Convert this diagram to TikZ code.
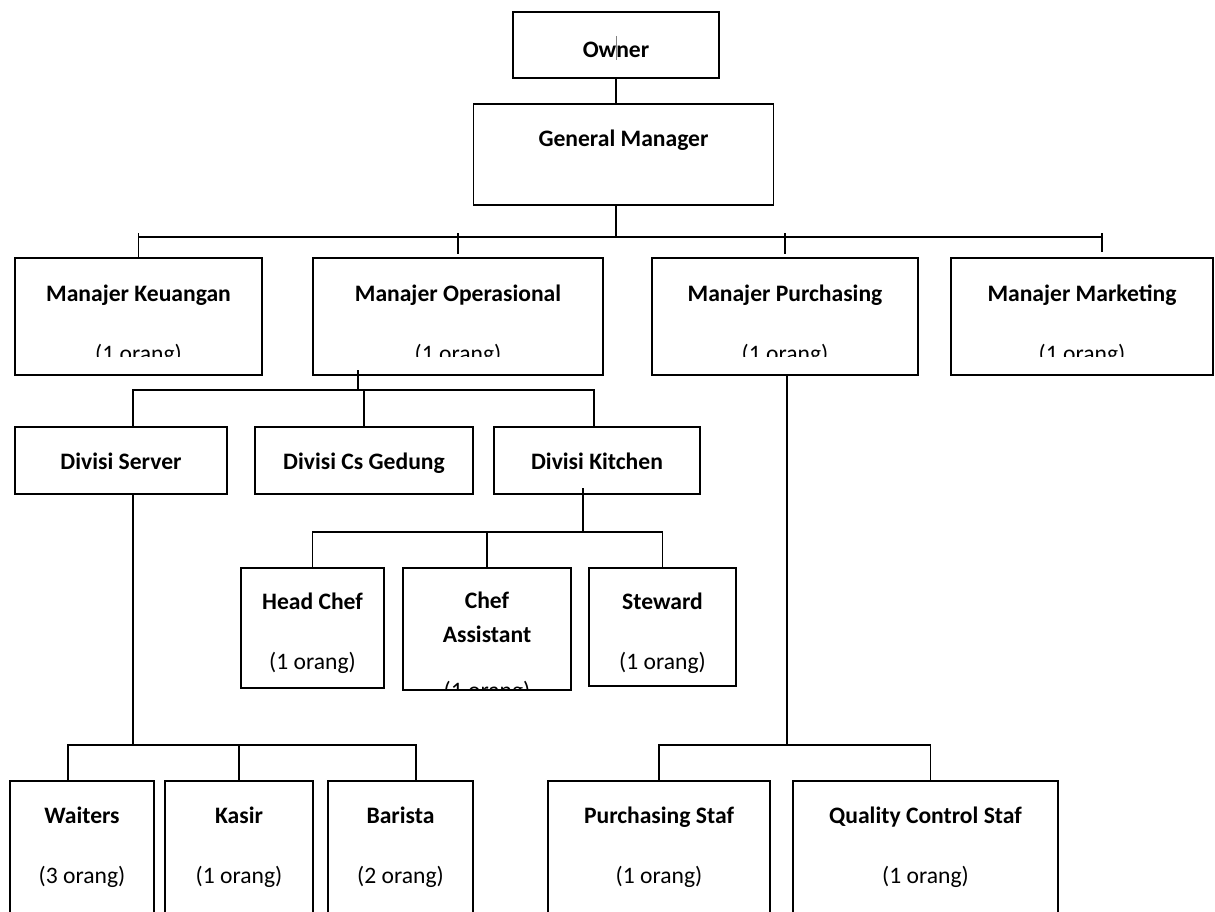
\documentclass[tikz,border=0pt]{standalone}
\usepackage{fontspec}
\setmainfont{Carlito}
\usepackage{tikz}

\begin{document}
\begin{tikzpicture}[x=1pt,y=-1pt,line width=1.6pt,
  box/.style={draw, inner sep=0pt, outer sep=0pt},
  ttl/.style={font=\fontsize{23.6}{34}\selectfont\bfseries, inner sep=0pt, anchor=base},
  cnt/.style={font=\fontsize{23.6}{34}\selectfont, inner sep=0pt, anchor=base}]
\useasboundingbox (0,0) rectangle (1215,912);
% top
\node (own) at (616,45) [box, minimum width=206pt, minimum height=66pt] {};
\node (own-t) at (616,58) [ttl] {Owner};
\node (gm) at (623.5,154.5) [box, minimum width=300pt, minimum height=101pt] {};
\node (gm-t) at (623.5,147) [ttl] {General Manager};
% managers
\node (keu) at (138.5,316.5) [box, minimum width=247pt, minimum height=117pt] {};
\node (ops) at (458,316.5) [box, minimum width=290pt, minimum height=117pt] {};
\node (pur) at (785,316.5) [box, minimum width=266pt, minimum height=117pt] {};
\node (mkt) at (1082,316.5) [box, minimum width=262pt, minimum height=117pt] {};
\node (keu-t) at (138.5,301) [ttl] {Manajer Keuangan};
\node (ops-t) at (458,301) [ttl] {Manajer Operasional};
\node (pur-t) at (785,301) [ttl] {Manajer Purchasing};
\node (mkt-t) at (1082,301) [ttl] {Manajer Marketing};
\begin{scope}
\clip (0,258) rectangle (1215,356);
\node (keu-n) at (138.5,361) [cnt] {(1 orang)};
\node (ops-n) at (458,361) [cnt] {(1 orang)};
\node (pur-n) at (785,361) [cnt] {(1 orang)};
\node (mkt-n) at (1082,361) [cnt] {(1 orang)};
\end{scope}
% divisi
\node (srv) at (121,460.5) [box, minimum width=212pt, minimum height=67pt] {};
\node (csg) at (364,460.5) [box, minimum width=218pt, minimum height=67pt] {};
\node (kit) at (597,460.5) [box, minimum width=206pt, minimum height=67pt] {};
\node (srv-t) at (121,469) [ttl] {Divisi Server};
\node (csg-t) at (364,469) [ttl] {Divisi Cs Gedung};
\node (kit-t) at (597,469) [ttl] {Divisi Kitchen};
% kitchen staff
\node (hc) at (312.5,628) [box, minimum width=143pt, minimum height=120pt] {};
\node (ca) at (487,629) [box, minimum width=168pt, minimum height=122pt] {};
\node (stw) at (662.5,627) [box, minimum width=147pt, minimum height=118pt] {};
\node (hc-t) at (312.5,609) [ttl] {Head Chef};
\node (ca-t) at (487,591) [ttl, align=center, anchor=north] {Chef\\Assistant};
\node (stw-t) at (662.5,609) [ttl] {Steward};
\node (hc-n) at (312.5,669) [cnt] {(1 orang)};
\node (stw-n) at (662.5,669) [cnt] {(1 orang)};
\begin{scope}
\clip (403,568) rectangle (571,689);
\node (ca-n) at (487,698) [cnt] {(1 orang)};
\end{scope}
% bottom row
\node (wtr) at (82,855.5) [box, minimum width=144pt, minimum height=149pt] {};
\node (ksr) at (239,855.5) [box, minimum width=148pt, minimum height=149pt] {};
\node (bar) at (400.5,855.5) [box, minimum width=145pt, minimum height=149pt] {};
\node (ps) at (659,855.5) [box, minimum width=222pt, minimum height=149pt] {};
\node (qc) at (925.5,855.5) [box, minimum width=265pt, minimum height=149pt] {};
\node (wtr-t) at (82,823) [ttl] {Waiters};
\node (ksr-t) at (239,823) [ttl] {Kasir};
\node (bar-t) at (400.5,823) [ttl] {Barista};
\node (ps-t) at (659,823) [ttl] {Purchasing Staf};
\node (qc-t) at (925.5,823) [ttl] {Quality Control Staf};
\node (wtr-n) at (82,883) [cnt] {(3 orang)};
\node (ksr-n) at (239,883) [cnt] {(1 orang)};
\node (bar-n) at (400.5,883) [cnt] {(2 orang)};
\node (ps-n) at (659,883) [cnt] {(1 orang)};
\node (qc-n) at (925.5,883) [cnt] {(1 orang)};
% lines
\coordinate (b1) at (616,237);
\draw[line width=0.5pt, gray] ([yshift=9pt]own.center) -- ([yshift=-15pt]own.center);
\draw (own.south) -- (own.south |- gm.north);
\draw (gm.south -| b1) -- (b1);
\draw (keu.north |- b1) -- ([xshift=20pt]mkt.north |- b1);
\draw ([yshift=4pt]keu.north |- b1) -- (keu.north);
\draw ([yshift=4pt]ops.north |- b1) -- ([yshift=4pt]ops.north);
\draw ([yshift=4pt]pur.north |- b1) -- ([yshift=4pt]pur.north);
\draw ([xshift=20pt,yshift=4pt]mkt.north |- b1) -- ([xshift=20pt,yshift=6pt]mkt.north);
\coordinate (d-m) at (358,390);
\coordinate (d-l) at (133,390);
\coordinate (d-r) at (594,390);
\draw ([yshift=5pt]ops.south -| d-m) -- (d-m);
\draw (srv.north -| d-l) -- (d-l) -- (d-r) -- (kit.north -| d-r);
\draw (csg.north) -- (csg.north |- d-m);
\coordinate (k-m) at (583,532);
\draw ([yshift=6pt]kit.south -| k-m) -- (k-m);
\draw (hc.north) -- (hc.north |- k-m) -- (stw.north |- k-m) -- (stw.north);
\draw (ca.north) -- (ca.north |- k-m);
\coordinate (s-m) at (133,745);
\coordinate (s-l) at (68,745);
\coordinate (s-r) at (416,745);
\draw (srv.south -| s-m) -- (s-m);
\draw (wtr.north -| s-l) -- (s-l) -- (s-r) -- (bar.north -| s-r);
\draw (ksr.north) -- (ksr.north |- s-m);
\coordinate (p-m) at (787,745);
\draw (pur.south -| p-m) -- (p-m);
\draw (ps.north) -- (ps.north |- p-m) -- ([xshift=5pt]qc.north |- p-m) -- ([xshift=5pt]qc.north);
\end{tikzpicture}
\end{document}
